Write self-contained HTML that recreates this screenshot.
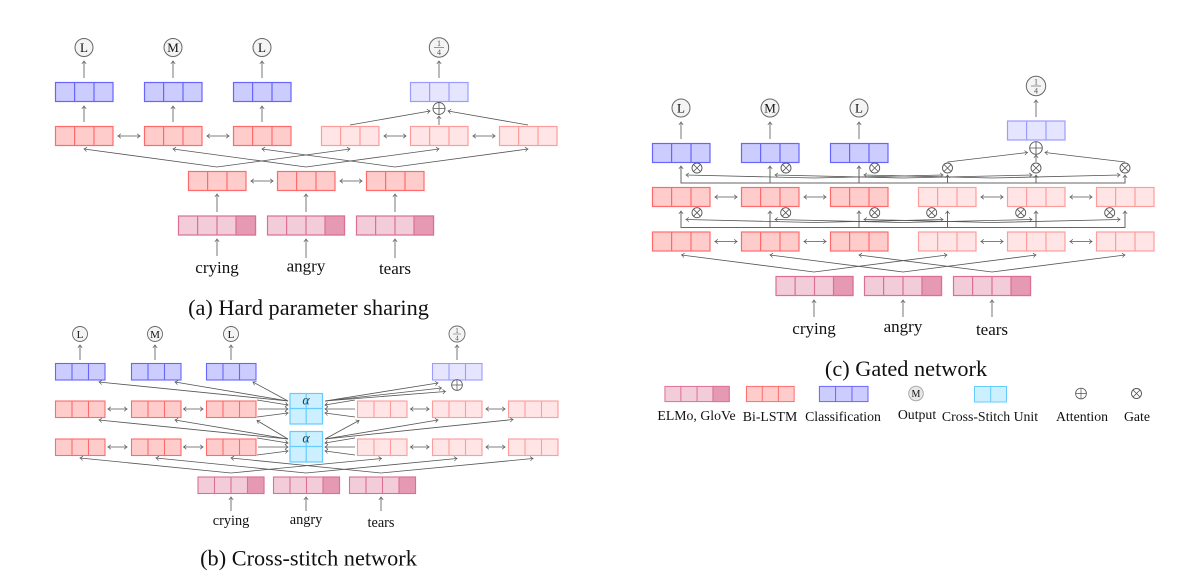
<!DOCTYPE html>
<html><head><meta charset="utf-8"><style>
html,body{margin:0;padding:0;background:#fff;width:1200px;height:573px;overflow:hidden}
svg{display:block;font-family:"Liberation Serif",serif}
text{fill:#111;text-anchor:middle}
.a{fill:none;stroke:#555;stroke-width:.8;marker-end:url(#m)}
.g{fill:none;stroke:#777;stroke-width:1;marker-end:url(#m)}
.d{fill:none;stroke:#555;stroke-width:.8;marker-end:url(#m);marker-start:url(#ms)}
.e{stroke:#666;stroke-width:1}
.cap{font-size:22.3px}
.w1{font-size:17px}.w2{font-size:14.3px}
.lg{font-size:13.8px}
.red{fill:#ffcccc;stroke:#ff6b6b}
.blu{fill:#ccccff;stroke:#6666ff}
.lr{fill:#ffe5e5;stroke:#ff9c9c}
.lb{fill:#e5e5ff;stroke:#9c9cff}
.em{fill:#f2ccd9;stroke:#dd6f95}
.cy{fill:#ccf0ff;stroke:#66ccff}
</style></head><body>
<svg width="1200" height="573" viewBox="0 0 1200 573" xmlns="http://www.w3.org/2000/svg">
<defs>
<marker id="m" markerUnits="userSpaceOnUse" markerWidth="8" markerHeight="8" refX="4" refY="4" orient="auto"><path d="M1.2,1.8Q3,3.5 4,4Q3,4.5 1.2,6.2" fill="none" stroke="#555" stroke-width=".7"/></marker>
<marker id="ms" markerUnits="userSpaceOnUse" markerWidth="8" markerHeight="8" refX="4" refY="4" orient="auto"><path d="M6.8,1.8Q5,3.5 4,4Q5,4.5 6.8,6.2" fill="none" stroke="#555" stroke-width=".7"/></marker>
<g id="c3"><rect x=".5" y=".5" width="57.5" height="19" stroke-width="1.2"/><path d="M19.6,.5V19.5M39,.5V19.5" stroke-width="1.2"/></g>
<g id="s3"><rect x=".5" y=".5" width="49.5" height="16.5" stroke-width="1.1"/><path d="M17,.5V17M33.5,.5V17" stroke-width="1.1"/></g>
<g id="e4"><rect x=".5" y=".5" width="77" height="19" stroke-width="1.2"/><rect x="58" y=".5" width="19.5" height="19" fill="#e699b3" stroke-width="1.2"/><path d="M19.6,.5V19.5M39,.5V19.5" stroke-width="1.2"/></g>
<g id="f4"><rect x=".5" y=".5" width="66" height="16.5" stroke-width="1.1"/><rect x="50" y=".5" width="16.5" height="16.5" fill="#e699b3" stroke-width="1.1"/><path d="M17,.5V17M33.5,.5V17" stroke-width="1.1"/></g>
<g id="u"><rect x=".5" y=".5" width="32.5" height="30.5" stroke-width="1.2"/><path d="M16.7,.5V31M.5,15.5H33" stroke-width="1.2"/></g>
<g id="op"><circle r="6" fill="none" stroke="#555" stroke-width=".9"/><path d="M-6,0H6M0,-6V6" stroke="#555" stroke-width=".8"/></g>
<g id="ot"><circle r="5" fill="#fff" stroke="#555" stroke-width=".9"/><path d="M-3.5,-3.5L3.5,3.5M-3.5,3.5L3.5,-3.5" stroke="#555" stroke-width=".8"/></g>
</defs>

<!-- panel a -->
<use href="#c3" class="blu" x="55" y="82"/><use href="#c3" class="blu" x="144" y="82"/><use href="#c3" class="blu" x="233" y="82"/><use href="#c3" class="lb" x="410" y="82"/>
<use href="#c3" class="red" x="55" y="126"/><use href="#c3" class="red" x="144" y="126"/><use href="#c3" class="red" x="233" y="126"/>
<use href="#c3" class="lr" x="321" y="126"/><use href="#c3" class="lr" x="410" y="126"/><use href="#c3" class="lr" x="499" y="126"/>
<use href="#c3" class="red" x="188" y="171"/><use href="#c3" class="red" x="277" y="171"/><use href="#c3" class="red" x="366" y="171"/>
<use href="#e4" class="em" x="178" y="215.5"/><use href="#e4" class="em" x="267" y="215.5"/><use href="#e4" class="em" x="356" y="215.5"/>
<path class="g" d="M84,78V61"/><path class="g" d="M173,78V61"/><path class="g" d="M262,78V61"/><path class="g" d="M439,78V61"/>
<path class="g" d="M84,122V106"/><path class="g" d="M173,122V106"/><path class="g" d="M262,122V106"/>
<path class="g" d="M217,212V194"/><path class="g" d="M306,212V194"/><path class="g" d="M395,212V194"/>
<path class="g" d="M217,256V239"/><path class="g" d="M306,258V239"/><path class="g" d="M395,258V239"/>
<path class="d" d="M118,136H140"/><path class="d" d="M207,136H229"/><path class="d" d="M384,136H406"/><path class="d" d="M473,136H495"/><path class="d" d="M251,181H273"/><path class="d" d="M340,181H362"/>
<path class="d" d="M84,149L217,167L350,149"/><path class="d" d="M173,149L306,167L439,149"/><path class="d" d="M262,149L395,167L528,149"/>
<path class="a" d="M350,125L430,111"/><path class="a" d="M528,125L448,111"/><path class="g" d="M439,125V116"/>
<use href="#op" x="439" y="108.5"/>
<g fill="#f4f4f4" stroke="#666" stroke-width="1"><circle cx="84" cy="47.5" r="9"/><circle cx="173" cy="47.5" r="9"/><circle cx="262" cy="47.5" r="9"/><circle cx="439" cy="47.5" r="9.7"/></g>
<path d="M434,47.5H444" stroke="#555" stroke-width=".6"/>
<text x="84" y="52" font-size="13">L</text><text x="173" y="52" font-size="13">M</text><text x="262" y="52" font-size="13">L</text>
<text x="439" y="46" font-size="8" style="fill:#555">1</text><text x="439" y="55" font-size="8" style="fill:#555">4</text>
<text class="w1" x="217" y="273">crying</text><text class="w1" x="306" y="271.5">angry</text><text class="w1" x="395" y="274">tears</text>
<text class="cap" x="308.5" y="315">(a) Hard parameter sharing</text>

<!-- panel b -->
<use href="#s3" class="blu" x="55" y="363"/><use href="#s3" class="blu" x="131" y="363"/><use href="#s3" class="blu" x="206" y="363"/><use href="#s3" class="lb" x="432" y="363"/>
<use href="#s3" class="red" x="55" y="400.5"/><use href="#s3" class="red" x="131" y="400.5"/><use href="#s3" class="red" x="206" y="400.5"/>
<use href="#s3" class="lr" x="357" y="400.5"/><use href="#s3" class="lr" x="432" y="400.5"/><use href="#s3" class="lr" x="508" y="400.5"/>
<use href="#s3" class="red" x="55" y="438.5"/><use href="#s3" class="red" x="131" y="438.5"/><use href="#s3" class="red" x="206" y="438.5"/>
<use href="#s3" class="lr" x="357" y="438.5"/><use href="#s3" class="lr" x="432" y="438.5"/><use href="#s3" class="lr" x="508" y="438.5"/>
<use href="#f4" class="em" x="197.5" y="476.5"/><use href="#f4" class="em" x="273" y="476.5"/><use href="#f4" class="em" x="349" y="476.5"/>
<use href="#u" class="cy" x="289.5" y="393"/><use href="#u" class="cy" x="289.5" y="431"/>
<text x="306" y="404.5" font-size="14" font-style="italic" style="fill:#245">α</text><text x="306" y="442.5" font-size="14" font-style="italic" style="fill:#245">α</text>
<path class="g" d="M80,360V345"/><path class="g" d="M155,360V345"/><path class="g" d="M231,360V345"/><path class="g" d="M457,360V345"/>
<path class="g" d="M231,511V497"/><path class="g" d="M306,511V497"/><path class="g" d="M381,511V497"/>
<path class="d" d="M108,409H127"/><path class="d" d="M183.5,409H203"/><path class="d" d="M410.5,409H429"/><path class="d" d="M486,409H505"/>
<path class="d" d="M108,447H127"/><path class="d" d="M183.5,447H203"/><path class="d" d="M410.5,447H429"/><path class="d" d="M486,447H505"/>
<path class="a" d="M288,401L99,382"/><path class="a" d="M288,401L175,382"/><path class="a" d="M288,401L253,382"/>
<path class="a" d="M325,401L438,383"/><path class="a" d="M325,401L441.5,388"/><path class="a" d="M325,401L445.5,391.5"/>
<path class="a" d="M257,400L288,405"/><path class="a" d="M258,409H288"/><path class="a" d="M257,417L288,413"/>
<path class="a" d="M355,400L325,405"/><path class="a" d="M355,409H325"/><path class="a" d="M355,417L325,413"/>
<path class="a" d="M288,439L99,420"/><path class="a" d="M288,439L175,420"/><path class="a" d="M288,439L257,420.5"/>
<path class="a" d="M325,439L359,420.5"/><path class="a" d="M325,439L438,420"/><path class="a" d="M325,439L513,419.5"/>
<path class="a" d="M257,438L288,443"/><path class="a" d="M258,447H288"/><path class="a" d="M257,455L288,451"/>
<path class="a" d="M355,438L325,443"/><path class="a" d="M355,447H325"/><path class="a" d="M355,455L325,451"/>
<path class="d" d="M80,458L231,473L381.5,458.5"/><path class="d" d="M156,458L306,473L457,458.5"/><path class="d" d="M231,458L381,473L533,458.5"/>
<use href="#op" transform="translate(457,385) scale(.9)"/>
<g fill="#f4f4f4" stroke="#666" stroke-width=".9"><circle cx="80" cy="334" r="7.5"/><circle cx="155" cy="334" r="7.5"/><circle cx="231" cy="334" r="7.5"/><circle cx="457" cy="334" r="8"/></g>
<path d="M453,334H461" stroke="#555" stroke-width=".5"/>
<text x="80" y="338" font-size="11">L</text><text x="155" y="338" font-size="11">M</text><text x="231" y="338" font-size="11">L</text>
<text x="457" y="333" font-size="7" style="fill:#555">1</text><text x="457" y="340.5" font-size="7" style="fill:#555">4</text>
<text class="w2" x="231" y="525">crying</text><text class="w2" x="306" y="524">angry</text><text class="w2" x="381" y="527">tears</text>
<text class="cap" x="308.5" y="565.5">(b) Cross-stitch network</text>

<!-- panel c -->
<use href="#c3" class="blu" x="652" y="143"/><use href="#c3" class="blu" x="741" y="143"/><use href="#c3" class="blu" x="830" y="143"/><use href="#c3" class="lb" x="1007" y="120.5"/>
<use href="#c3" class="red" x="652" y="187"/><use href="#c3" class="red" x="741" y="187"/><use href="#c3" class="red" x="830" y="187"/>
<use href="#c3" class="lr" x="918" y="187"/><use href="#c3" class="lr" x="1007" y="187"/><use href="#c3" class="lr" x="1096" y="187"/>
<use href="#c3" class="red" x="652" y="231.5"/><use href="#c3" class="red" x="741" y="231.5"/><use href="#c3" class="red" x="830" y="231.5"/>
<use href="#c3" class="lr" x="918" y="231.5"/><use href="#c3" class="lr" x="1007" y="231.5"/><use href="#c3" class="lr" x="1096" y="231.5"/>
<use href="#e4" class="em" x="775.5" y="276"/><use href="#e4" class="em" x="864" y="276"/><use href="#e4" class="em" x="953" y="276"/>
<path class="g" d="M681,139V122"/><path class="g" d="M770,139V122"/><path class="g" d="M859,139V122"/><path class="g" d="M1036,117V100"/>
<path class="g" d="M814,317V300"/><path class="g" d="M903,317V300"/><path class="g" d="M992,317V300"/>
<path class="d" d="M715,197H737"/><path class="d" d="M804,197H826"/><path class="d" d="M981,197H1003"/><path class="d" d="M1070,197H1092"/>
<path class="d" d="M715,241.5H737"/><path class="d" d="M804,241.5H826"/><path class="d" d="M981,241.5H1003"/><path class="d" d="M1070,241.5H1092"/>
<path class="d e" d="M681,166V183H947.5V175"/><path class="d e" d="M770,166V183H1036V175"/><path class="d e" d="M859,166V183H1125V175"/>
<path class="d" d="M686,175L814,178L943,175"/><path class="d" d="M775,175L903,178L1032,175"/><path class="d" d="M864,175L992,178L1120,175"/>
<path class="d e" d="M681,211V227.5H947.5V211"/><path class="d e" d="M770,211V227.5H1036V211"/><path class="d e" d="M859,211V227.5H1125V211"/>
<path class="d" d="M686,219.5L814,222.5L943,219.5"/><path class="d" d="M775,219.5L903,222.5L1032,219.5"/><path class="d" d="M864,219.5L992,222.5L1120,219.5"/>
<path class="d" d="M681.5,255L814,272L947,255"/><path class="d" d="M770,255L903,272L1036,255"/><path class="d" d="M859,255L992,272L1125,255"/>
<path class="a" d="M947.5,162L1027.5,152.5"/><path class="a" d="M1125,162L1045,152.5"/><path class="g" d="M1036,162V155"/>
<use href="#op" transform="translate(1036,148) scale(1.05)"/>
<use href="#ot" x="697" y="168"/><use href="#ot" x="786" y="168"/><use href="#ot" x="874.7" y="168"/><use href="#ot" x="947.5" y="168"/><use href="#ot" x="1036" y="168"/><use href="#ot" x="1125" y="168"/>
<use href="#ot" x="697" y="212.7"/><use href="#ot" x="785.7" y="212.7"/><use href="#ot" x="874.7" y="212.7"/><use href="#ot" x="931.7" y="212.7"/><use href="#ot" x="1020.7" y="212.7"/><use href="#ot" x="1109.7" y="212.7"/>
<g fill="#f4f4f4" stroke="#666" stroke-width="1"><circle cx="681" cy="108" r="9"/><circle cx="770" cy="108" r="9"/><circle cx="859" cy="108" r="9"/><circle cx="1036" cy="86" r="9.7"/></g>
<path d="M1031,86H1041" stroke="#555" stroke-width=".6"/>
<text x="681" y="112.5" font-size="13">L</text><text x="770" y="112.5" font-size="13">M</text><text x="859" y="112.5" font-size="13">L</text>
<text x="1036" y="84.5" font-size="8" style="fill:#555">1</text><text x="1036" y="93.5" font-size="8" style="fill:#555">4</text>
<text class="w1" x="814" y="334">crying</text><text class="w1" x="903" y="332">angry</text><text class="w1" x="992" y="335">tears</text>
<text class="cap" x="906" y="376">(c) Gated network</text>

<!-- legend -->
<g transform="translate(664.5,386) scale(.835,.8)"><use href="#e4" class="em"/></g>
<g transform="translate(746,386) scale(.83,.8)"><use href="#c3" class="red"/></g>
<g transform="translate(819,386) scale(.845,.8)"><use href="#c3" class="blu"/></g>
<g transform="translate(974,386)"><rect x=".5" y=".5" width="32" height="15.5" class="cy"/><path d="M16.7,.5V16" stroke="#66ccff"/></g>
<circle cx="916" cy="393.5" r="7.3" fill="#e8e8e8" stroke="#aaa"/><text x="916" y="397" font-size="10">M</text>
<use href="#op" transform="translate(1081,393.5) scale(.9)"/><use href="#ot" transform="translate(1136.5,393.5)"/>
<text class="lg" x="696.5" y="420">ELMo, GloVe</text><text class="lg" x="770" y="421">Bi-LSTM</text><text class="lg" x="843" y="421">Classification</text>
<text class="lg" x="917" y="419">Output</text><text class="lg" x="990" y="421">Cross-Stitch Unit</text><text class="lg" x="1082" y="421">Attention</text><text class="lg" x="1137" y="421">Gate</text>
</svg>
</body></html>
